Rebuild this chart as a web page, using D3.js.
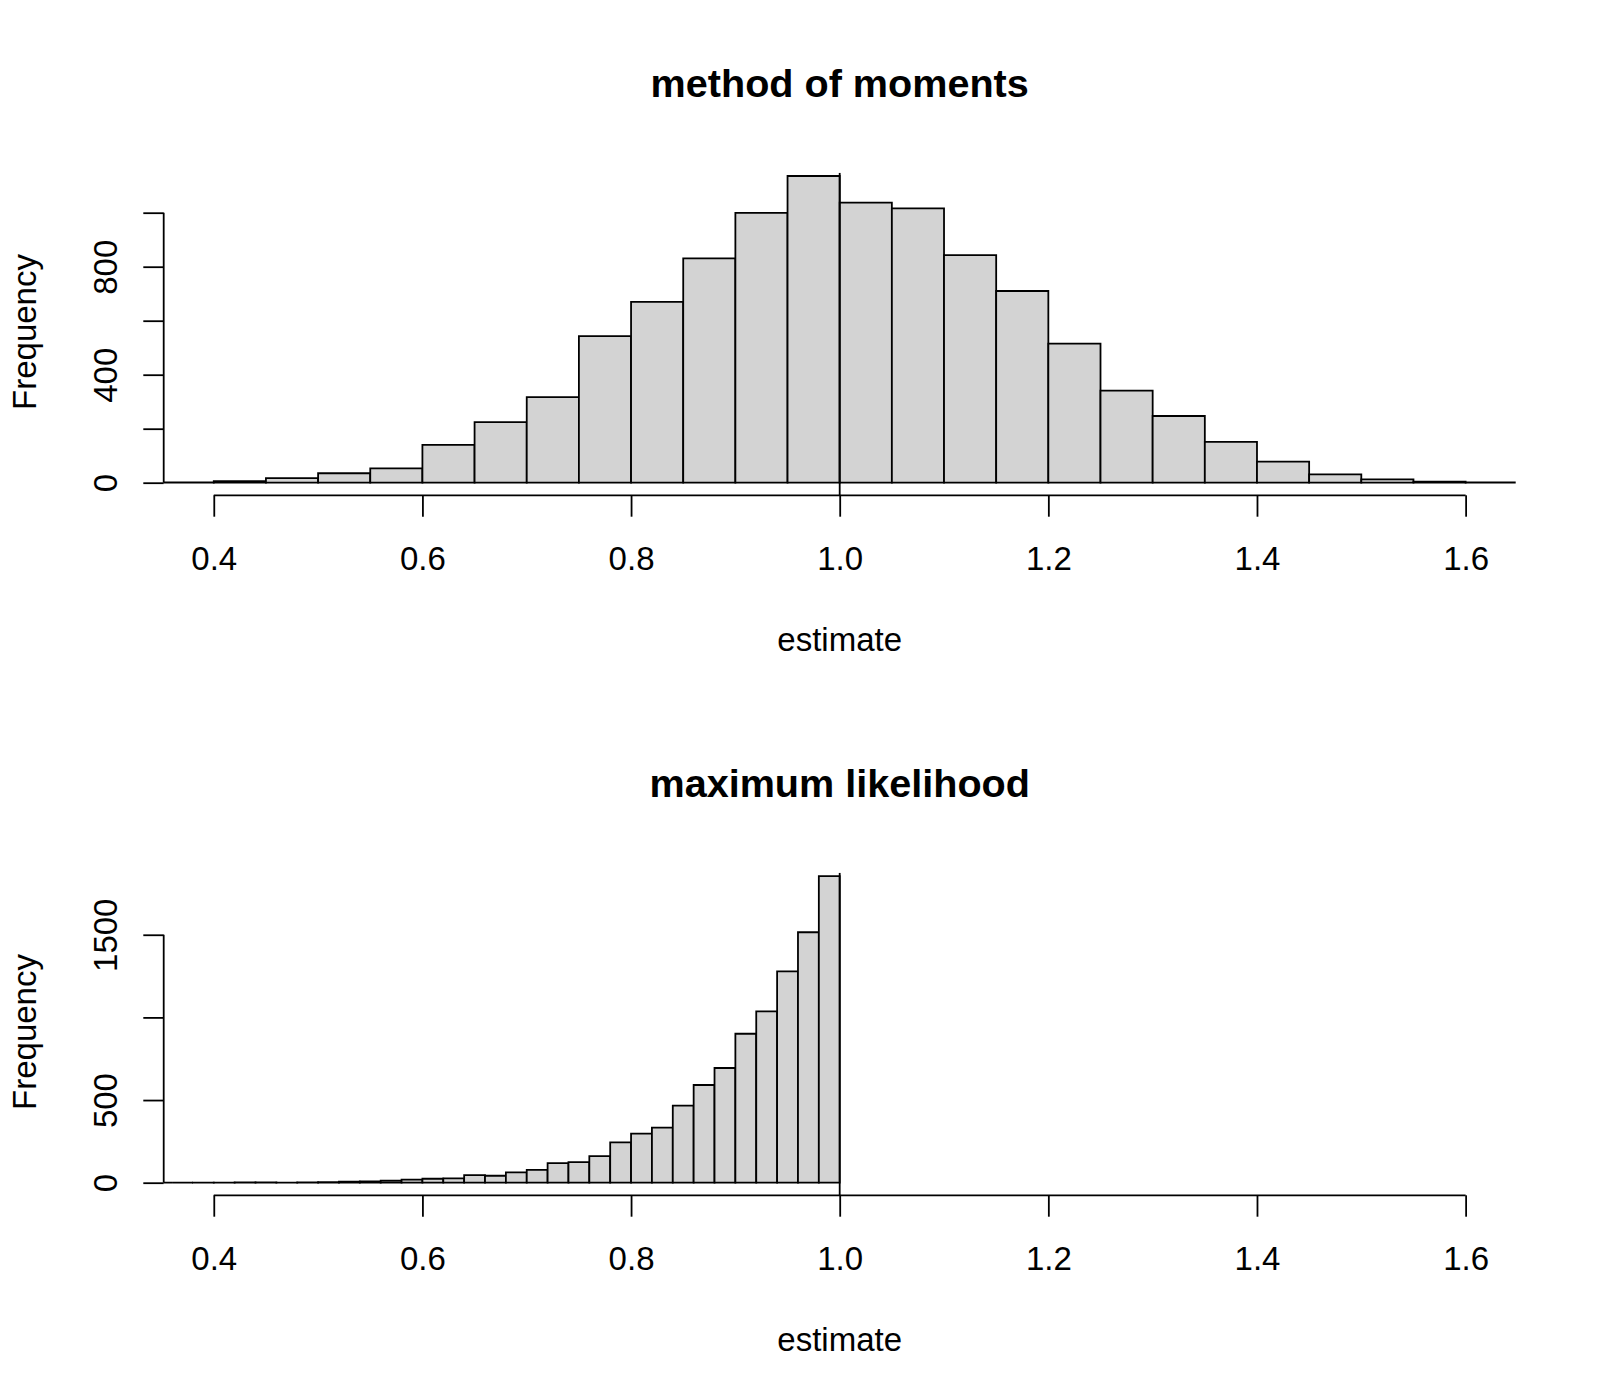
<!DOCTYPE html>
<html>
<head>
<meta charset="utf-8">
<script src="https://cdn.jsdelivr.net/npm/d3@7"></script>
<style>
  html, body { margin: 0; padding: 0; background: #fff; }
  svg { display: block; font-family: "Liberation Sans", Arial, Helvetica, sans-serif; }
</style>
</head>
<body>
<div id="chart"></div>
<script>
// Histogram breaks and counts
const momBreaks = [0.35, 0.40, 0.45, 0.50, 0.55, 0.60, 0.65, 0.70, 0.75, 0.80, 0.85, 0.90, 0.95,
                   1.00, 1.05, 1.10, 1.15, 1.20, 1.25, 1.30, 1.35, 1.40, 1.45, 1.50, 1.55, 1.60, 1.65];
const momCounts = [1, 6, 17, 35, 53, 140, 224, 317, 543, 670, 831, 999, 1136,
                   1037, 1016, 843, 710, 515, 341, 247, 151, 78, 31, 12, 4, 1];

const mleBreaks = [0.34, 0.36, 0.38, 0.40, 0.42, 0.44, 0.46, 0.48, 0.50, 0.52, 0.54, 0.56, 0.58,
                   0.60, 0.62, 0.64, 0.66, 0.68, 0.70, 0.72, 0.74, 0.76, 0.78, 0.80, 0.82, 0.84,
                   0.86, 0.88, 0.90, 0.92, 0.94, 0.96, 0.98, 1.00];
const mleCounts = [0, 0, 1, 1, 2, 2, 1, 2, 4, 6, 8, 12, 18,
                   24, 26, 46, 42, 63, 77, 119, 125, 161, 244, 297, 333, 466,
                   591, 694, 901, 1037, 1279, 1515, 1855];

const xTicks = [0.4, 0.6, 0.8, 1.0, 1.2, 1.4, 1.6];
const xTickLabels = ['0.4', '0.6', '0.8', '1.0', '1.2', '1.4', '1.6'];
const momYTicks = [0, 200, 400, 600, 800, 1000];
const momYLabels = ['0', '', '400', '', '800', ''];
const mleYTicks = [0, 500, 1000, 1500];
const mleYLabels = ['0', '500', '', '1500'];

const panels = [
    { title: 'method of moments', breaks: momBreaks, counts: momCounts,
      yTicks: momYTicks, yLabels: momYLabels, yMax: 1000 },
    { title: 'maximum likelihood', breaks: mleBreaks, counts: mleCounts,
      yTicks: mleYTicks, yLabels: mleYLabels, yMax: 1500 }
];

const width = 1600, panelHeight = 700;
// plot region (pixels, within one panel)
const plot = { left: 163.7, right: 1515.7, top: 172.7, bottom: 495.3 };
const zeroY = 482.7;
const pxPerCount = [0.27, 0.1653];
const fontSize = 33;
const lw = 1.8;

const svg = d3.select('#chart')
    .append('svg')
    .attr('width', width)
    .attr('height', panelHeight * 2);

const x = d3.scaleLinear()
    .domain([0.352, 1.648])
    .range([plot.left, plot.right]);

panels.forEach((p, i) => {
    const g = svg.append('g')
        .attr('transform', `translate(0,${i * panelHeight})`);

    const y = d3.scaleLinear()
        .domain([0, p.yMax])
        .range([zeroY, zeroY - p.yMax * pxPerCount[i]]);

    const clipId = 'clip' + i;
    g.append('clipPath')
        .attr('id', clipId)
        .append('rect')
        .attr('x', plot.left)
        .attr('y', plot.top)
        .attr('width', plot.right - plot.left)
        .attr('height', plot.bottom - plot.top);

    const bins = p.counts.map((c, k) => ({ x0: p.breaks[k], x1: p.breaks[k + 1], count: c }));

    // bars as paths so that empty bins still leave a line on the baseline
    g.append('g')
        .attr('clip-path', `url(#${clipId})`)
        .selectAll('path.bar')
        .data(bins)
        .enter()
        .append('path')
        .attr('class', 'bar')
        .attr('d', d => {
            const a = x(d.x0), b = x(d.x1), y0 = y(0), y1 = y(d.count);
            return `M${a},${y0}V${y1}H${b}V${y0}Z`;
        })
        .attr('fill', '#d3d3d3')
        .attr('stroke', '#000')
        .attr('stroke-width', lw);

    // abline at the true value
    g.append('line')
        .attr('clip-path', `url(#${clipId})`)
        .attr('x1', x(1)).attr('x2', x(1))
        .attr('y1', plot.top).attr('y2', plot.bottom)
        .attr('stroke', '#000')
        .attr('stroke-width', lw);

    // x axis (R style: line from first to last tick)
    const xAxis = d3.axisBottom(x)
        .tickValues(xTicks)
        .tickFormat((d, k) => xTickLabels[k])
        .tickSize(21.4)
        .tickSizeOuter(0)
        .tickPadding(8);
    const gx = g.append('g')
        .attr('transform', `translate(0,${plot.bottom})`)
        .call(xAxis);
    gx.select('.domain').remove();
    gx.append('line')
        .attr('x1', x(xTicks[0])).attr('x2', x(xTicks[xTicks.length - 1]))
        .attr('stroke', '#000').attr('stroke-width', lw);
    gx.selectAll('.tick line').attr('stroke', '#000').attr('stroke-width', lw);
    gx.selectAll('.tick text')
        .attr('y', 74.5)
        .attr('dy', null)
        .attr('fill', '#000')
        .attr('font-size', fontSize)
        .attr('font-family', '"Liberation Sans", Arial, sans-serif');

    // y axis
    const yAxis = d3.axisLeft(y)
        .tickValues(p.yTicks)
        .tickFormat((d, k) => p.yLabels[k])
        .tickSize(20.4)
        .tickSizeOuter(0);
    const gy = g.append('g')
        .attr('transform', `translate(${plot.left},0)`)
        .call(yAxis);
    gy.select('.domain').remove();
    gy.append('line')
        .attr('y1', y(p.yTicks[0])).attr('y2', y(p.yTicks[p.yTicks.length - 1]))
        .attr('stroke', '#000').attr('stroke-width', lw);
    gy.selectAll('.tick line').attr('stroke', '#000').attr('stroke-width', lw);
    gy.selectAll('.tick text')
        .attr('x', null).attr('dy', null)
        .attr('transform', 'translate(-46.7,0) rotate(-90)')
        .attr('text-anchor', 'middle')
        .attr('fill', '#000')
        .attr('font-size', fontSize)
        .attr('font-family', '"Liberation Sans", Arial, sans-serif');

    // title
    g.append('text')
        .attr('x', (plot.left + plot.right) / 2)
        .attr('y', 96.7)
        .attr('text-anchor', 'middle')
        .attr('font-size', 39.6)
        .attr('font-weight', 'bold')
        .text(p.title);

    // axis titles
    g.append('text')
        .attr('x', (plot.left + plot.right) / 2)
        .attr('y', 651)
        .attr('text-anchor', 'middle')
        .attr('font-size', fontSize)
        .text('estimate');

    g.append('text')
        .attr('transform', `translate(36,332) rotate(-90)`)
        .attr('text-anchor', 'middle')
        .attr('font-size', fontSize)
        .text('Frequency');
});
</script>
</body>
</html>
